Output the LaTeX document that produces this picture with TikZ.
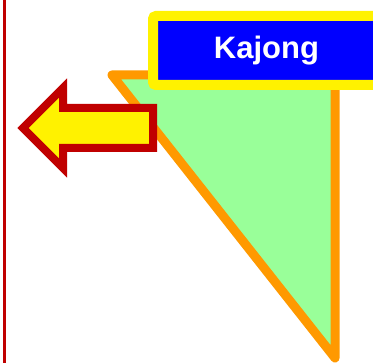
\documentclass[tikz,border=0pt]{standalone}
\usepackage{fontspec}
\setmainfont{Liberation Sans}
\usepackage{xcolor}
\usepackage{tikz}
\usetikzlibrary{positioning}

\definecolor{darkred}{HTML}{C00000}
\definecolor{tribg}{HTML}{99FF99}
\definecolor{triline}{HTML}{FF9900}

\begin{document}
\begin{tikzpicture}[
    x=1pt, y=-1pt,
    % Styles
    titlebox/.style={rectangle, draw=yellow, fill=blue, line width=10pt, rounded corners=3pt,
        minimum width=227pt, minimum height=69pt, inner sep=0pt, align=center,
        text=white, font=\fontsize{31}{31}\selectfont\bfseries},
    wedge/.style={draw=triline, fill=tribg, line width=9pt, line join=round},
    leftarrow/.style={draw=darkred, fill=yellow, line width=8pt, line join=miter},
    sideline/.style={draw=darkred, line width=3pt}
]
\useasboundingbox (0,0) rectangle (373,363);

% Left rule
\coordinate (ruletop) at (4.7,0);
\coordinate (rulebot) at (4.7,363);
\draw[sideline] (ruletop) -- (rulebot);

% Triangle
\draw[wedge] (112,75) -- (335,75) -- (335,358) -- cycle;

% Arrow pointing left
\draw[leftarrow] (153,108) -- (63,108) -- (63,88) -- (23,128) -- (63,168) -- (63,148) -- (153,148) -- cycle;

% Title box
\node[titlebox] (title) at (266.5,50.5) {Kajong};

\end{tikzpicture}
\end{document}
